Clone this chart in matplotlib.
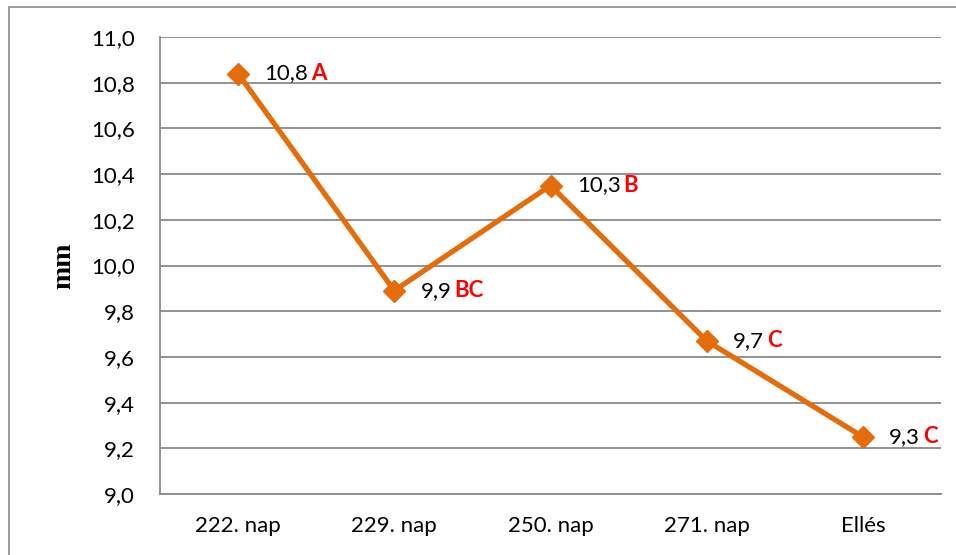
import matplotlib
matplotlib.use("Agg")
import matplotlib.pyplot as plt
from matplotlib.patches import Rectangle

categories = ["222. nap", "229. nap", "250. nap", "271. nap", "Ellés"]
values = [10.84, 9.89, 10.35, 9.67, 9.25]
value_labels = ["10,8", "9,9", "10,3", "9,7", "9,3"]
letters = ["A", "BC", "B", "C", "C"]
yticks = [9.0, 9.2, 9.4, 9.6, 9.8, 10.0, 10.2, 10.4, 10.6, 10.8, 11.0]
ytick_labels = ["9,0", "9,2", "9,4", "9,6", "9,8", "10,0", "10,2", "10,4", "10,6", "10,8", "11,0"]

FONT = "Lato"
FS = 16
orange = "#E46C0A"
grid = "#898989"

fig = plt.figure(figsize=(9.56, 5.55), dpi=100)
ax = fig.add_axes([160/956, 1-494/555, (941-160)/956, (494-37)/555])

# outer frame
fig.patches.append(Rectangle((9/956, -0.05), 1.0, 1 - 7/555 + 0.05, transform=fig.transFigure,
                             fill=False, edgecolor="#8c8c8c", linewidth=1.2, zorder=0))

x = list(range(len(categories)))
ax.plot(x, values, color=orange, linewidth=3.8, marker="D", markersize=11,
        markerfacecolor=orange, markeredgecolor=orange, zorder=3)

ax.set_ylim(9.0, 11.0)
ax.set_xlim(-0.5, len(categories) - 0.5)
ax.set_yticks(yticks)
ax.set_yticklabels(ytick_labels, fontfamily=FONT, fontsize=FS)
ax.set_xticks(x)
ax.set_xticklabels(categories, fontfamily=FONT, fontsize=FS)
ax.tick_params(axis="y", length=0, pad=18)
ax.tick_params(axis="x", length=0, pad=16)
ax.yaxis.grid(True, color=grid, linewidth=1.3)
ax.set_axisbelow(True)
for s in ["top", "right"]:
    ax.spines[s].set_visible(False)
for s in ["left", "bottom"]:
    ax.spines[s].set_color(grid)
    ax.spines[s].set_linewidth(1.3)

ax.set_ylabel("mm", fontfamily="Liberation Serif", fontweight="bold", fontsize=20, labelpad=11)

fig.canvas.draw()
renderer = fig.canvas.get_renderer()
for xi, v, lab, let in zip(x, values, value_labels, letters):
    t = ax.annotate(lab, (xi, v), xytext=(19, 0), textcoords="offset points",
                    ha="left", va="center", fontfamily=FONT, fontsize=FS, color="black")
    bb = t.get_window_extent(renderer)
    w_pt = bb.width * 72 / fig.dpi
    ax.annotate(let, (xi, v), xytext=(19 + w_pt + 2, 0), textcoords="offset points",
                ha="left", va="center", fontfamily=FONT, fontsize=FS, color="red",
                fontweight="bold")

fig.savefig("out.png", dpi=100)
